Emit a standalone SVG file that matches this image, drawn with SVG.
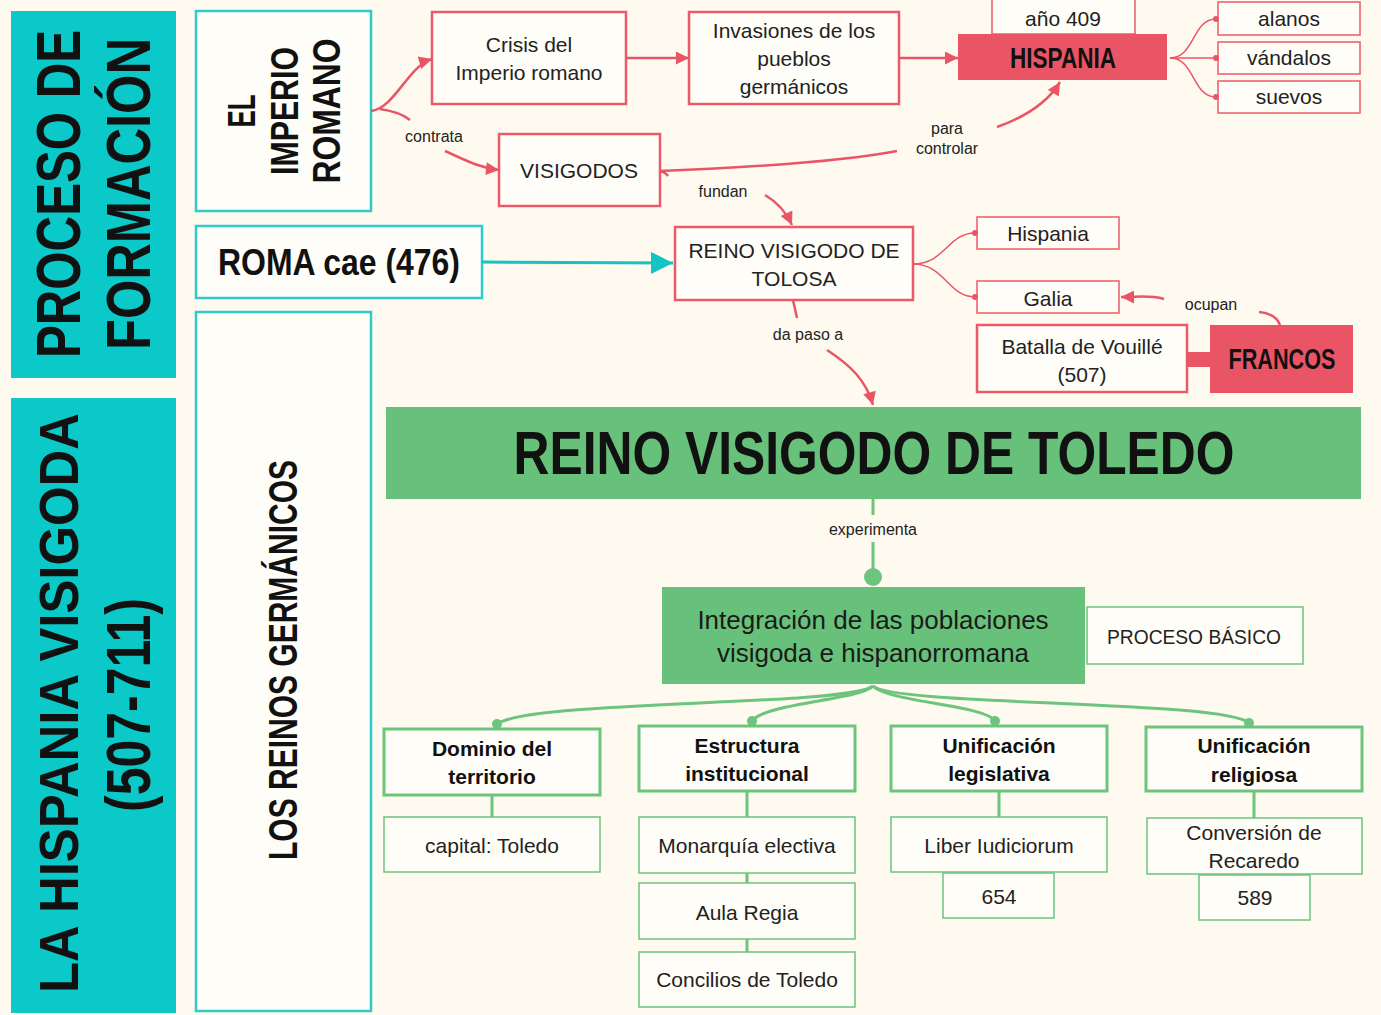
<svg xmlns="http://www.w3.org/2000/svg" width="1381" height="1015" viewBox="0 0 1381 1015">
<style>
text{font-family:"Liberation Sans",Arial,sans-serif;fill:#222}
.t{font-size:21px;text-anchor:middle}
.s{font-size:16px;text-anchor:middle}
.big{font-size:26px;text-anchor:middle;fill:#1a1a1a}
.b{font-weight:bold;fill:#111;text-anchor:middle}
.cat{font-size:21px;font-weight:bold;text-anchor:middle;fill:#111}
.rb{fill:#fffdf7;stroke:#eb5a68;stroke-width:2.5}
.rt{fill:#fffdf7;stroke:#eb5a68;stroke-width:1.5}
.rf{fill:#ea5565}
.tb{fill:#fffdf7;stroke:#2dcccc;stroke-width:2.5}
.gb{fill:#fffdf7;stroke:#6cc47d;stroke-width:3}
.gt{fill:#fffdf7;stroke:#6cc47d;stroke-width:1.5}
.gf{fill:#68c17a}
.rc{fill:none;stroke:#ea5565;stroke-width:2.5}
.rcs{fill:none;stroke:#ea5565;stroke-width:1.5}
.gc{fill:none;stroke:#6cc47d;stroke-width:3}
</style>
<defs>
<marker id="ar" viewBox="0 0 10 10" refX="10" refY="5" markerWidth="14" markerHeight="13" markerUnits="userSpaceOnUse" orient="auto"><path d="M0,0 L10,5 L0,10 z" fill="#ea5565"/></marker>
<marker id="at" viewBox="0 0 10 10" refX="10" refY="5" markerWidth="24" markerHeight="22" markerUnits="userSpaceOnUse" orient="auto"><path d="M0,0 L10,5 L0,10 z" fill="#12c4c4"/></marker>
</defs>
<rect width="1381" height="1015" fill="#fffaf0"/>

<g id="proceso">
<rect x="11" y="11" width="165" height="367" fill="#0bc9c9"/>
<text class="b" font-size="50" transform="translate(80,194) rotate(-90) scale(1,1.27)" textLength="328" lengthAdjust="spacingAndGlyphs">PROCESO DE</text>
<text class="b" font-size="50" transform="translate(150,194) rotate(-90) scale(1,1.27)" textLength="312" lengthAdjust="spacingAndGlyphs">FORMACIÓN</text>
</g>
<g id="hispania-visigoda">
<rect x="11" y="398" width="165" height="615" fill="#0bc9c9"/>
<text class="b" font-size="50" transform="translate(78,703) rotate(-90) scale(1,1.12)" textLength="580" lengthAdjust="spacingAndGlyphs">LA HISPANIA VISIGODA</text>
<text class="b" font-size="50" transform="translate(150,705) rotate(-90) scale(1,1.25)" textLength="214" lengthAdjust="spacingAndGlyphs">(507-711)</text>
</g>
<g id="imperio">
<rect class="tb" x="196" y="11" width="175" height="200"/>
<text class="b" font-size="31" transform="translate(255,111) rotate(-90) scale(1,1.27)" textLength="33" lengthAdjust="spacingAndGlyphs">EL</text>
<text class="b" font-size="31" transform="translate(298,111) rotate(-90) scale(1,1.27)" textLength="128" lengthAdjust="spacingAndGlyphs">IMPERIO</text>
<text class="b" font-size="31" transform="translate(340,111) rotate(-90) scale(1,1.27)" textLength="145" lengthAdjust="spacingAndGlyphs">ROMANO</text>
</g>
<g id="roma">
<rect class="tb" x="196" y="226" width="286" height="72"/>
<text class="b" font-size="36" x="339" y="275" textLength="242" lengthAdjust="spacingAndGlyphs">ROMA cae (476)</text>
</g>
<g id="reinos">
<rect class="tb" x="196" y="312" width="175" height="699"/>
<text class="b" font-size="31" transform="translate(297,660) rotate(-90) scale(1,1.3)" textLength="400" lengthAdjust="spacingAndGlyphs">LOS REINOS GERMÁNICOS</text>
</g>

<g id="crisis"><rect class="rb" x="432" y="12" width="194" height="92"/>
<text class="t" x="529" y="52">Crisis del</text><text class="t" x="529" y="80">Imperio romano</text></g>
<g id="invasiones"><rect class="rb" x="689" y="12" width="210" height="92"/>
<text class="t" x="794" y="38">Invasiones de los</text><text class="t" x="794" y="66">pueblos</text><text class="t" x="794" y="94">germánicos</text></g>
<g id="ano409"><rect class="rt" x="992" y="-20" width="143" height="54"/>
<text class="t" x="1063" y="26">año 409</text></g>
<g id="hispania"><rect class="rf" x="958" y="34" width="209" height="46"/>
<text class="b" font-size="23" transform="translate(1063,68) scale(1,1.3)" textLength="106" lengthAdjust="spacingAndGlyphs">HISPANIA</text></g>
<g id="alanos"><rect class="rt" x="1218" y="2" width="142" height="33"/><text class="t" x="1289" y="26">alanos</text></g>
<g id="vandalos"><rect class="rt" x="1218" y="42" width="142" height="32"/><text class="t" x="1289" y="65">vándalos</text></g>
<g id="suevos"><rect class="rt" x="1218" y="81" width="142" height="32"/><text class="t" x="1289" y="104">suevos</text></g>
<g id="visigodos"><rect class="rb" x="499" y="134" width="161" height="72"/><text class="t" x="579" y="178">VISIGODOS</text></g>
<g id="tolosa"><rect class="rb" x="675" y="227" width="238" height="73"/>
<text class="t" x="794" y="258">REINO VISIGODO DE</text><text class="t" x="794" y="286">TOLOSA</text></g>
<g id="hispania2"><rect class="rt" x="977" y="217" width="142" height="32"/><text class="t" x="1048" y="241">Hispania</text></g>
<g id="galia"><rect class="rt" x="977" y="281" width="142" height="32"/><text class="t" x="1048" y="306">Galia</text></g>
<g id="batalla"><rect class="rb" x="977" y="325" width="210" height="67"/>
<text class="t" x="1082" y="354">Batalla de Vouillé</text><text class="t" x="1082" y="382">(507)</text></g>
<g id="francos"><rect class="rf" x="1187" y="352" width="24" height="15"/><rect class="rf" x="1210" y="325" width="143" height="68"/>
<text class="b" font-size="23" transform="translate(1282,369) scale(1,1.25)" textLength="107" lengthAdjust="spacingAndGlyphs">FRANCOS</text></g>
<g id="toledo"><rect class="gf" x="386" y="407" width="975" height="92"/>
<text class="b" font-size="50" transform="translate(874,474) scale(1,1.24)" textLength="721" lengthAdjust="spacingAndGlyphs">REINO VISIGODO DE TOLEDO</text></g>
<g id="integracion"><rect class="gf" x="662" y="587" width="423" height="97"/>
<text class="big" x="873" y="629">Integración de las poblaciones</text><text class="big" x="873" y="662">visigoda e hispanorromana</text></g>
<g id="basico"><rect class="gt" x="1087" y="607" width="216" height="57"/><text class="t" x="1194" y="644" textLength="174" lengthAdjust="spacingAndGlyphs">PROCESO BÁSICO</text></g>
<g id="dominio"><rect class="gb" x="384" y="729" width="216" height="66"/>
<text class="cat" x="492" y="756">Dominio del</text><text class="cat" x="492" y="784">territorio</text></g>
<g id="estructura"><rect class="gb" x="639" y="726" width="216" height="65"/>
<text class="cat" x="747" y="753">Estructura</text><text class="cat" x="747" y="781">institucional</text></g>
<g id="legislativa"><rect class="gb" x="891" y="726" width="216" height="65"/>
<text class="cat" x="999" y="753">Unificación</text><text class="cat" x="999" y="781">legislativa</text></g>
<g id="religiosa"><rect class="gb" x="1146" y="727" width="216" height="64"/>
<text class="cat" x="1254" y="753">Unificación</text><text class="cat" x="1254" y="782">religiosa</text></g>
<g id="capital"><rect class="gt" x="384" y="817" width="216" height="55"/><text class="t" x="492" y="853">capital: Toledo</text></g>
<g id="monarquia"><rect class="gt" x="639" y="817" width="216" height="56"/><text class="t" x="747" y="853">Monarquía electiva</text></g>
<g id="aula"><rect class="gt" x="639" y="883" width="216" height="56"/><text class="t" x="747" y="920">Aula Regia</text></g>
<g id="concilios"><rect class="gt" x="639" y="952" width="216" height="55"/><text class="t" x="747" y="987">Concilios de Toledo</text></g>
<g id="liber"><rect class="gt" x="891" y="817" width="216" height="55"/><text class="t" x="999" y="853">Liber Iudiciorum</text></g>
<g id="n654"><rect class="gt" x="943" y="873" width="111" height="45"/><text class="t" x="999" y="904">654</text></g>
<g id="conversion"><rect class="gt" x="1147" y="818" width="215" height="56"/>
<text class="t" x="1254" y="840">Conversión de</text><text class="t" x="1254" y="868">Recaredo</text></g>
<g id="n589"><rect class="gt" x="1199" y="875" width="111" height="45"/><text class="t" x="1255" y="905">589</text></g>

<g id="connectors">
<path class="rc" d="M371,111 C395,108 408,66 432,59" marker-end="url(#ar)"/>
<path class="rc" d="M380,109 C393,111 403,114 410,120"/>
<text class="s" x="434" y="142">contrata</text>
<path class="rc" d="M445,151 C465,160 480,168 499,170" marker-end="url(#ar)"/>
<path class="rc" d="M626,58 L689,58" marker-end="url(#ar)"/>
<path class="rc" d="M899,58 L958,58" marker-end="url(#ar)"/>
<path class="rc" d="M660,171 C760,167 850,160 897,151"/>
<text class="s" x="947" y="134">para</text>
<text class="s" x="947" y="154">controlar</text>
<path class="rc" d="M997,127 C1025,117 1048,102 1060,82" marker-end="url(#ar)"/>
<path class="rc" d="M660,171 C664,172 666,173 668,176"/>
<text class="s" x="723" y="197">fundan</text>
<path class="rc" d="M765,195 C777,202 786,212 792,225" marker-end="url(#ar)"/>
<path class="rcs" d="M1170,58 C1195,58 1192,19 1216,19"/>
<path class="rcs" d="M1170,58 L1216,58"/>
<path class="rcs" d="M1170,58 C1195,58 1192,97 1216,97"/>
<circle cx="1216" cy="19" r="3" fill="#ea5565"/><circle cx="1216" cy="58" r="3" fill="#ea5565"/><circle cx="1216" cy="97" r="3" fill="#ea5565"/>
<path class="rcs" d="M913,264 C945,264 948,233 975,233"/>
<path class="rcs" d="M913,264 C945,264 948,297 975,297"/>
<circle cx="975" cy="233" r="3" fill="#ea5565"/><circle cx="975" cy="297" r="3" fill="#ea5565"/>
<path d="M482,262 L673,263" fill="none" stroke="#12c4c4" stroke-width="3" marker-end="url(#at)"/>
<path class="rc" d="M1280,325 C1277,317 1270,313 1259,312"/>
<text class="s" x="1211" y="310">ocupan</text>
<path class="rc" d="M1164,299 C1150,295 1140,297 1121,297" marker-end="url(#ar)"/>
<path class="rc" d="M793,300 L797,318"/>
<text class="s" x="808" y="340">da paso a</text>
<path class="rc" d="M827,350 C850,365 866,380 873,405" marker-end="url(#ar)"/>
<path class="gc" d="M873,499 L873,515"/>
<text class="s" x="873" y="535">experimenta</text>
<path class="gc" d="M873,542 L873,575"/>
<circle cx="873" cy="577" r="9" fill="#6cc47d"/>
<path class="gc" d="M873,686 C850,706 530,700 497,724"/>
<path class="gc" d="M873,686 C860,700 765,703 752,721"/>
<path class="gc" d="M873,686 C888,702 985,705 995,721"/>
<path class="gc" d="M873,686 C895,706 1225,700 1249,723"/>
<circle cx="497" cy="724" r="5" fill="#6cc47d"/><circle cx="752" cy="721" r="5" fill="#6cc47d"/><circle cx="995" cy="721" r="5" fill="#6cc47d"/><circle cx="1249" cy="723" r="5" fill="#6cc47d"/>
<path class="gc" d="M492,795 L492,817 M747,791 L747,817 M747,873 L747,883 M747,939 L747,952 M999,791 L999,817 M1254,791 L1254,818"/>
</g>
</svg>
